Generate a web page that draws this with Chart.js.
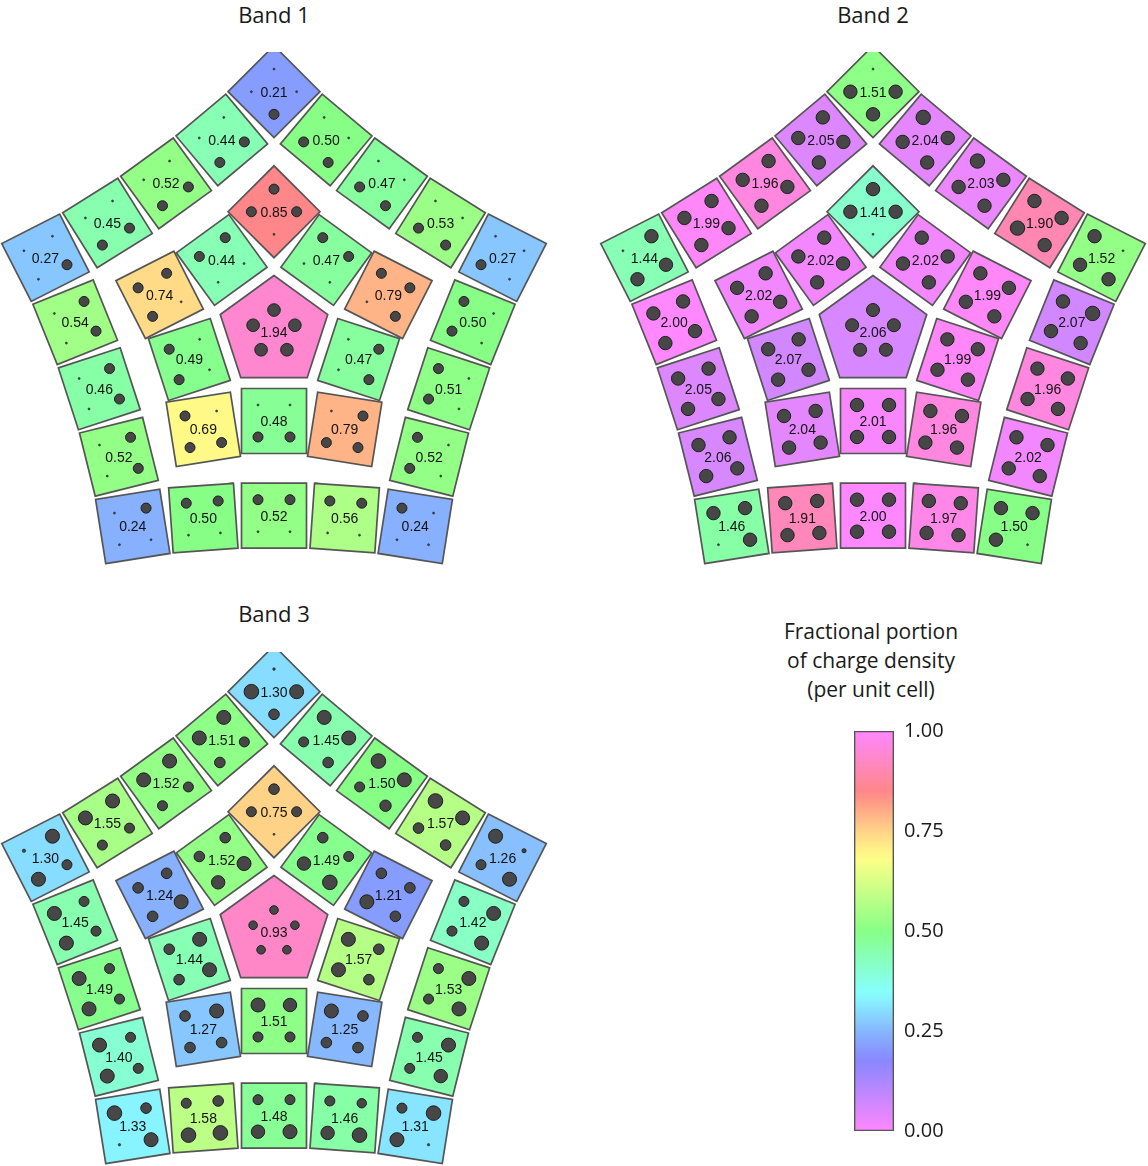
<!DOCTYPE html>
<html lang="en">
<head>
<meta charset="utf-8">
<title>Fractional portion of charge density</title>
<script src="https://cdn.jsdelivr.net/npm/chart.js@4.4.1/dist/chart.umd.min.js"></script>
<style>
  html, body { margin: 0; padding: 0; background: #ffffff; }
  body { position: relative; width: 1148px; height: 1166px; overflow: hidden;
         font-family: 'Open Sans', 'Noto Sans', sans-serif; color: #1a1a1a; }
  .panel { position: absolute; width: 560px; height: 560px; }
  .title { position: absolute; width: 200px; height: 28px; line-height: 28px;
           text-align: center; font-size: 22px; }
  #cbTitle { position: absolute; left: 721px; top: 617px; width: 300px;
             text-align: center; font-size: 21px; line-height: 29px; }
  #cbWrap { position: absolute; left: 853px; top: 711px; width: 120px; height: 440px; }
</style>
</head>
<body>
<div class="title" style="left:174px; top:0px;">Band 1</div>
<div class="title" style="left:773px; top:0px;">Band 2</div>
<div class="title" style="left:174px; top:599px;">Band 3</div>

<div class="panel" style="left:-6px; top:52px;"><canvas id="band1" width="560" height="560"></canvas></div>
<div class="panel" style="left:593px; top:52px;"><canvas id="band2" width="560" height="560"></canvas></div>
<div class="panel" style="left:-6px; top:652px;"><canvas id="band3" width="560" height="560"></canvas></div>

<div id="cbTitle">Fractional portion<br>of charge density<br>(per unit cell)</div>
<div id="cbWrap"><canvas id="colorbar" width="120" height="440"></canvas></div>

<script>
// ---- data -----------------------------------------------------------
// Cell order: centre pentagon, inner ring of 10 (counter-clockwise, starting
// at the lower-left vertex square), outer ring of 20 (counter-clockwise,
// starting at the lower-left corner square).
const bandTitles = ['Band 1', 'Band 2', 'Band 3'];

const band1Pentagon = 1.94;
const band1Inner = [0.69, 0.48, 0.79, 0.47, 0.79, 0.47, 0.85, 0.44, 0.74, 0.49];
const band1Outer = [0.24, 0.50, 0.52, 0.56, 0.24, 0.52, 0.51, 0.50, 0.27, 0.53,
                    0.47, 0.50, 0.21, 0.44, 0.52, 0.45, 0.27, 0.54, 0.46, 0.52];

const band2Pentagon = 2.06;
const band2Inner = [2.04, 2.01, 1.96, 1.99, 1.99, 2.02, 1.41, 2.02, 2.02, 2.07];
const band2Outer = [1.46, 1.91, 2.00, 1.97, 1.50, 2.02, 1.96, 2.07, 1.52, 1.90,
                    2.03, 2.04, 1.51, 2.05, 1.96, 1.99, 1.44, 2.00, 2.05, 2.06];

const band3Pentagon = 0.93;
const band3Inner = [1.27, 1.51, 1.25, 1.57, 1.21, 1.49, 0.75, 1.52, 1.24, 1.44];
const band3Outer = [1.33, 1.58, 1.48, 1.46, 1.31, 1.45, 1.53, 1.42, 1.26, 1.57,
                    1.50, 1.45, 1.30, 1.51, 1.52, 1.55, 1.30, 1.45, 1.49, 1.40];

// Atom markers (radius in px). Pentagon: 5 atoms.
// Diamond-type squares: [inner, ccw side, outer, cw side]
// Edge-type squares:    [inner-cw, inner-ccw, outer-ccw, outer-cw]
const band1PentagonDots = [6.3, 6.3, 6.3, 6.3, 6.3];
const band1InnerDots = [
  [1, 5, 5, 5], [1, 1, 5, 5], [1, 5, 5, 5], [1, 1, 5, 5], [1, 5, 5, 5],
  [1, 1, 5, 5], [1, 5, 5, 5], [1, 1, 5, 5], [1, 5, 5, 5], [1, 1, 5, 5]
];
const band1OuterDots = [
  [5, 1, 1, 1], [5, 5, 1, 1], [5, 5, 1, 1], [5, 5, 1, 1],
  [5, 1, 1, 1], [5, 5, 1, 1], [5, 5, 1, 1], [5, 5, 1, 1],
  [5, 1, 1, 1], [5, 5, 1, 1], [5, 5, 1, 1], [5, 5, 1, 1],
  [5, 1, 1, 1], [5, 5, 1, 1], [5, 5, 1, 1], [5, 5, 1, 1],
  [5, 1, 1, 1], [5, 5, 1, 1], [5, 5, 1, 1], [5, 5, 1, 1]
];

const band2PentagonDots = [6.5, 6.5, 6.5, 6.5, 6.5];
const band2InnerDots = [
  [6.7, 6.7, 6.7, 6.7], [6.7, 6.7, 6.7, 6.7], [6.7, 6.7, 6.7, 6.7], [6.7, 6.7, 6.7, 6.7],
  [6.7, 6.7, 6.7, 6.7], [6.7, 6.7, 6.7, 6.7], [1, 6.7, 6.7, 6.7], [6.7, 6.7, 6.7, 6.7],
  [6.7, 6.7, 6.7, 6.7], [6.7, 6.7, 6.7, 6.7]
];
const band2OuterDots = [
  [6.7, 6.7, 1, 6.7], [6.7, 6.7, 6.7, 6.7], [6.7, 6.7, 6.7, 6.7], [6.7, 6.7, 6.7, 6.7],
  [6.7, 6.7, 1, 6.7], [6.7, 6.7, 6.7, 6.7], [6.7, 6.7, 6.7, 6.7], [6.7, 6.7, 7.2, 6.7],
  [6.7, 6.7, 1, 6.7], [6.7, 7.2, 6.7, 6.7], [6.7, 6.7, 7.2, 6.7], [6.7, 6.7, 7.2, 6.7],
  [6.7, 6.7, 1, 6.7], [6.7, 6.7, 6.7, 6.7], [6.7, 6.7, 6.7, 6.7], [6.7, 6.7, 6.7, 6.7],
  [6.7, 6.7, 1, 6.7], [6.7, 6.7, 6.7, 6.7], [6.7, 6.7, 6.7, 6.7], [6.7, 6.7, 6.7, 6.7]
];

const band3PentagonDots = [4.3, 4.3, 4.3, 4.3, 4.3];
const band3InnerDots = [
  [7, 5.3, 5.3, 5.3], [7, 6.7, 5, 5], [7, 5.3, 5.3, 5.3], [7, 7, 5.3, 5.3],
  [7, 5.3, 5.3, 5.3], [7.3, 6.7, 5.3, 5], [1, 5, 5.3, 5], [7, 6.7, 5.3, 5.3],
  [7, 5.3, 5.3, 5.3], [7, 7, 5.3, 5.3]
];
const band3OuterDots = [
  [5.3, 7, 1.2, 7.3], [5, 5.3, 7.3, 7.3], [5, 5, 7, 6.7], [5, 4.7, 7.3, 6.7],
  [5, 7.3, 1.2, 7], [5, 5, 7, 6.7], [5, 5, 7, 7], [5, 5, 7, 7],
  [5, 7, 2, 7], [5.3, 5.3, 7.3, 7], [5.7, 5, 7.3, 7], [5.3, 5, 7, 7],
  [5.3, 7.3, 1.3, 7], [5, 5.3, 7, 7], [5, 5, 7, 7], [5, 5, 7, 7],
  [5, 7, 1.7, 7], [5, 5, 7, 7], [5, 5, 7, 7], [5, 5, 7, 7]
];

const colorbarTicks = [0, 0.25, 0.5, 0.75, 1];
// hue of the colour scale at fractions 0, .25, .5, .75, 1
const colorbarHues = [300, 216, 120, 38, -60];

// ---- geometry of the tiling (lengths in square-side units) ----------
const GEOM = {
  pentR: 0.869, pentDotR: 0.338, dotR: 0.348,
  innerEdge: 1.369, innerVertex: 1.85,
  outerMid: 2.826, outerFlank: 3.062, flankSpread: 20.8, flankTilt: 4,
  outerCorner: 3.697
};
const HALF_SPAN = 280 / 65;

const rad = d => d * Math.PI / 180;
const polar = (r, a) => ({ x: r * Math.cos(rad(a)), y: r * Math.sin(rad(a)) });

function ringSlots() {
  const slots = [];
  for (let i = 0; i < 10; i++) {
    const a = 234 + 36 * i;
    if (i % 2 === 0) slots.push({ kind: 'V', ang: a, dist: GEOM.innerVertex, rot: a - 45 });
    else slots.push({ kind: 'E', ang: a, dist: GEOM.innerEdge, rot: a - 270 });
  }
  for (let i = 0; i < 20; i++) {
    const base = 234 + 72 * Math.floor(i / 4);
    const mid = base + 36;
    const p = i % 4;
    if (p === 0) {
      slots.push({ kind: 'V', ang: base, dist: GEOM.outerCorner, rot: base - 45 });
    } else if (p === 2) {
      slots.push({ kind: 'E', ang: mid, dist: GEOM.outerMid, rot: mid - 270 });
    } else {
      const s = p === 1 ? -1 : 1;
      slots.push({ kind: 'E', ang: mid + s * GEOM.flankSpread, dist: GEOM.outerFlank,
                   rot: mid - 270 - s * GEOM.flankTilt });
    }
  }
  return slots;
}

// pastel hue wheel, hue interpolated between the colour-bar stops
function cmap(f) {
  const seg = Math.min(3, Math.floor(f * 4));
  const t = f * 4 - seg;
  const hue = colorbarHues[seg] + (colorbarHues[seg + 1] - colorbarHues[seg]) * t;
  const h = ((hue % 360) + 360) % 360;
  const s = 0.47, v = 1;
  const ch = n => {
    const k = (n + h / 60) % 6;
    return Math.round((v - v * s * Math.max(0, Math.min(k, 4 - k, 1))) * 255);
  };
  return `rgb(${ch(5)}, ${ch(3)}, ${ch(1)})`;
}
const fracColor = val => cmap(val - Math.floor(val));

function buildCells(band) {
  const cells = [];
  const pent = { value: band.pent, cx: 0, cy: 0, poly: [], dots: [] };
  for (let j = 0; j < 5; j++) {
    pent.poly.push(polar(GEOM.pentR, 90 + 72 * j));
    const d = polar(GEOM.pentDotR, 90 + 72 * j);
    pent.dots.push({ x: d.x, y: d.y, r: band.pentDots[j] });
  }
  cells.push(pent);

  const values = band.inner.concat(band.outer);
  const dotSets = band.innerDots.concat(band.outerDots);
  ringSlots().forEach((s, i) => {
    const c = polar(s.dist, s.ang);
    const poly = [0, 1, 2, 3].map(k => {
      const p = polar(Math.SQRT1_2, s.rot + 45 + 90 * k);
      return { x: c.x + p.x, y: c.y + p.y };
    });
    const dirs = s.kind === 'V'
      ? [s.ang + 180, s.ang + 90, s.ang, s.ang - 90]
      : [s.rot + 135, s.rot + 45, s.rot - 45, s.rot - 135];
    const dots = dirs.map((d, k) => {
      const p = polar(GEOM.dotR, d);
      return { x: c.x + p.x, y: c.y + p.y, r: dotSets[i][k] };
    });
    cells.push({ value: values[i], cx: c.x, cy: c.y, poly, dots });
  });
  return cells;
}

function drawBand(canvasId, band) {
  const cells = buildCells(band);

  const cellSets = cells.map(c => ({
    type: 'scatter',
    data: c.poly.concat([c.poly[0], c.poly[1]]),
    showLine: true,
    fill: 'shape',
    backgroundColor: fracColor(c.value),
    borderColor: '#555555',
    borderWidth: 1.7,
    borderJoinStyle: 'miter',
    pointRadius: 0,
    order: 1
  }));

  const dotSet = {
    type: 'bubble',
    data: cells.flatMap(c => c.dots),
    backgroundColor: '#474747',
    borderColor: '#1e1e1e',
    borderWidth: ctx => (ctx.raw && ctx.raw.r < 2 ? 0.6 : 1),
    order: 0
  };

  const labels = {
    id: 'cellLabels',
    afterDatasetsDraw(chart) {
      const { ctx, scales: { x, y } } = chart;
      ctx.save();
      ctx.font = '14px "Liberation Sans", Arial, sans-serif';
      ctx.fillStyle = '#111111';
      ctx.textAlign = 'center';
      ctx.textBaseline = 'middle';
      cells.forEach(c => {
        ctx.fillText(c.value.toFixed(2), x.getPixelForValue(c.cx), y.getPixelForValue(c.cy) + 1);
      });
      ctx.restore();
    }
  };

  new Chart(document.getElementById(canvasId), {
    type: 'scatter',
    data: { datasets: [dotSet, ...cellSets] },
    options: {
      responsive: false,
      animation: false,
      events: [],
      layout: { padding: 0, autoPadding: false },
      scales: {
        x: { type: 'linear', min: -HALF_SPAN, max: HALF_SPAN, display: false },
        y: { type: 'linear', min: -HALF_SPAN, max: HALF_SPAN, display: false }
      },
      plugins: { legend: { display: false }, tooltip: { enabled: false } }
    },
    plugins: [labels]
  });
}

drawBand('band1', { title: bandTitles[0], pent: band1Pentagon, inner: band1Inner, outer: band1Outer,
                    pentDots: band1PentagonDots, innerDots: band1InnerDots, outerDots: band1OuterDots });
drawBand('band2', { title: bandTitles[1], pent: band2Pentagon, inner: band2Inner, outer: band2Outer,
                    pentDots: band2PentagonDots, innerDots: band2InnerDots, outerDots: band2OuterDots });
drawBand('band3', { title: bandTitles[2], pent: band3Pentagon, inner: band3Inner, outer: band3Outer,
                    pentDots: band3PentagonDots, innerDots: band3InnerDots, outerDots: band3OuterDots });

// ---- colour bar -------------------------------------------------------
new Chart(document.getElementById('colorbar'), {
  type: 'bar',
  data: {
    labels: ['fraction'],
    datasets: [{
      data: [[colorbarTicks[0], colorbarTicks[colorbarTicks.length - 1]]],
      backgroundColor: ctx => {
        const area = ctx.chart.chartArea;
        if (!area) return cmap(0.5);
        const g = ctx.chart.ctx.createLinearGradient(0, area.bottom, 0, area.top);
        for (let i = 0; i <= 40; i++) g.addColorStop(i / 40, cmap(i / 40));
        return g;
      },
      borderColor: '#555555',
      borderWidth: 1.7,
      borderSkipped: false,
      barPercentage: 1,
      categoryPercentage: 1
    }]
  },
  options: {
    responsive: false,
    animation: false,
    events: [],
    layout: { padding: { top: 20, bottom: 20, left: 1, right: 0 }, autoPadding: false },
    scales: {
      x: { display: false },
      y: {
        position: 'right',
        min: colorbarTicks[0],
        max: colorbarTicks[colorbarTicks.length - 1],
        afterBuildTicks: s => { s.ticks = colorbarTicks.map(v => ({ value: v })); },
        afterFit: s => { s.width = 79; s.paddingTop = 0; s.paddingBottom = 0; },
        grid: { display: false, drawTicks: false },
        border: { display: false },
        ticks: {
          padding: 10,
          color: '#1a1a1a',
          font: { family: "'Open Sans', 'Noto Sans', sans-serif", size: 20 },
          callback: v => Number(v).toFixed(2)
        }
      }
    },
    plugins: { legend: { display: false }, tooltip: { enabled: false } }
  }
});
</script>
</body>
</html>
